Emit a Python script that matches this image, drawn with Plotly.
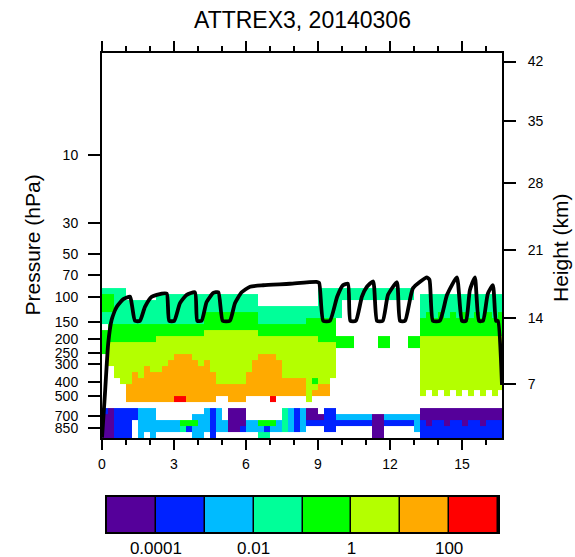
import plotly.graph_objects as go

W, H = 575, 557
FONT = "Liberation Sans"

title_text = "ATTREX3, 20140306"

# 8 colour bins of the field (values: <1e-4, 1e-4..1e-3, ..., >100)
bin_colors = ["#55009A", "#0022FF", "#00BBFF", "#00FF99",
              "#00FF00", "#B4FF00", "#FFAA00", "#FF0000"]
bar_tick_pos = [1, 3, 5, 7]
bar_tick_text = ["0.0001", "0.01", "1", "100"]

# grid of the field: time bin edges (h) and pressure bin edges (hPa)
time_edges = [round(0.25 * k, 2) for k in range(68)]
pressure_edges = [78.8, 86.8, 95.7, 105.5, 116.3, 128.2, 141.3, 155.8, 171.8,
                  189.4, 208.8, 230.1, 253.8, 279.7, 308.4, 340.0, 374.9,
                  413.2, 455.4, 502.2, 553.5, 610.4, 672.8, 741.9, 817.6,
                  901.4, 1000.0]

# one string per time column, top (low pressure) to bottom; '.' = no data
field_columns = [
    ".344433.4444.........10000",
    ".3444334445555.......00000",
    ".333333444555555.....11111",
    ".3333334445555555....11111",
    "...33334445555555666.11111",
    "...33334445555566666.11...",
    "...33334445555556666.22222",
    "...33334445555666666.2222.",
    "...33334445555566666.22222",
    "..333334455555566666...22.",
    "..333334455555666666...22.",
    "..333334455556666666...22.",
    "..333334455566666667...22.",
    "..333334455566666667...43.",
    "..333334455566666666...41.",
    "..333334455556666666..2422",
    "..333334455555666666..2222",
    "..333444555556666666.2222.",
    "..333444555555566666.11111",
    "..33344455555555566..2222.",
    "..33344455555555566....22.",
    "..333444555555555666.0000.",
    "..333444555555555666.0000.",
    "..333444555555555666.0001.",
    "..33344455555556666....22.",
    "..33344455555666666....22.",
    "....333445556666666....423",
    "....333445556666666....413",
    "....3334455566666667...42.",
    "....333445555666666....22.",
    "....333445555555666..3333.",
    "....333445555555666..2222.",
    "....333445555555666..1111.",
    "....333445555555666..2222.",
    "....3344455555555555.001..",
    "....334445555555456..001..",
    ".333334444555555566...01..",
    ".333334444555555566..1111.",
    ".333334444555555.....1111.",
    "." + "33333" + "..." + "44" + "..........." + "21..",
    "." + "33" + "......" + "44" + "..........." + "21..",
    "." + "33" + "......" + "44" + "..........." + "21..",
    "." + "33" + "......" + ".." + "..........." + "21..",
    "." + "33" + "......" + ".." + "..........." + "21..",
    "." + "33" + "......" + ".." + "..........." + "21..",
    "." + "33" + "......" + ".." + "..........." + "0000",
    "." + "33" + "......" + "44" + "..........." + "0000",
    "." + "33" + "......" + "44" + "..........." + "21..",
    "." + "33" + "......" + ".." + "..........." + "21..",
    "." + "33" + "......" + ".." + "..........." + "21..",
    "." + "33" + "......" + ".." + "..........." + "21..",
    "." + "33" + "......" + "44" + "..........." + "21..",
    "." + ".." + "......" + "44" + "..........." + "222.",
    "..33334445555555555..00111",
    "..3334444555555555...00011",
    "..33334445555555555..00111",
    "..3334444555555555...00111",
    "..33334445555555555..00011",
    "..3334444555555555...00111",
    "..33334445555555555..00111",
    "..3334444555555555...00011",
    "..33334445555555555..00111",
    "..3334444555555555...00111",
    "..33334445555555555..00011",
    "..3334444555555555...00111",
    "..33334445555555555..00111",
    "..3334444555555555...00111",
]

# flight track
flight_time = [0.00, 0.125, 0.26, 0.40, 0.61, 0.89, 1.17, 1.25, 1.375, 1.58, 1.79,
               2.07, 2.49, 2.70, 2.80, 3.01, 3.25, 3.53, 3.875, 3.97, 4.15, 4.36,
               4.64, 4.85, 5.03, 5.33, 5.54, 5.82, 6.17, 6.72, 7.83, 8.94, 9.05,
               9.22, 9.50, 9.80, 10.04, 10.25, 10.35, 10.58, 10.83, 11.04, 11.30,
               11.46, 11.70, 11.92, 12.29, 12.42, 12.63, 12.96, 13.54, 13.65,
               13.79, 14.08, 14.38, 14.79, 15.00, 15.17, 15.33, 15.54, 15.71,
               15.88, 16.08, 16.29, 16.42, 16.50, 16.67]
flight_pres = [985, 478, 212, 146, 118, 104, 100, 115, 148, 148, 118,
               100, 95, 95, 148, 148, 111, 97, 93, 148, 148, 109,
               94, 93, 148, 148, 111, 93, 85, 83, 81, 78.5, 80,
               148, 148, 100, 83, 81, 148, 148, 100, 85, 78,
               148, 148, 97, 79, 148, 148, 87, 73, 76,
               148, 148, 97, 73, 148, 148, 90, 73, 148,
               148, 95, 83, 148, 148, 420]

time_ticks = [0, 3, 6, 9, 12, 15]
time_range = [0, 16.67]
pressure_ticks = [10, 30, 50, 70, 100, 150, 200, 250, 300, 400, 500, 700, 850]
pressure_log_range = [2.997, 0.280]          # bottom -> top (log10 hPa)
height_ticks_km = [7, 14, 21, 28, 35, 42]
height_ticks_hpa = [410.6, 141.0, 46.78, 15.86, 5.78, 2.19]   # std atmosphere

# ---- build z matrix ----
nrows = len(pressure_edges) - 1
for c in field_columns:
    if len(c) != nrows:
        raise ValueError("bad column length %d: %r" % (len(c), c))
if len(field_columns) != len(time_edges) - 1:
    raise ValueError("bad number of columns %d" % len(field_columns))
z = [[(None if col[r] == "." else int(col[r])) for col in field_columns]
     for r in range(nrows)]

n = len(bin_colors)
cscale = []
for k, c in enumerate(bin_colors):
    cscale.append([k / n, c])
    cscale.append([(k + 1) / n, c])

fig = go.Figure()
fig.add_trace(go.Heatmap(x=time_edges, y=pressure_edges, z=z, colorscale=cscale,
                         zmin=-0.5, zmax=n - 0.5, showscale=False, zsmooth=False,
                         hoverinfo="skip", xaxis="x", yaxis="y"))
fig.add_trace(go.Scatter(x=flight_time, y=flight_pres, mode="lines",
                         line=dict(color="black", width=3.8, shape="spline",
                                   smoothing=0.5),
                         showlegend=False, xaxis="x", yaxis="y"))
fig.add_trace(go.Scatter(x=[None], y=[None], mode="lines", showlegend=False,
                         xaxis="x2", yaxis="y2"))
fig.add_trace(go.Heatmap(x=list(range(n + 1)), y=[0, 1], z=[list(range(n))],
                         colorscale=cscale, zmin=-0.5, zmax=n - 0.5,
                         showscale=False, xgap=1.5, hoverinfo="skip",
                         xaxis="x3", yaxis="y3"))

px0, px1 = 102, 502
py_top, py_bot = 53, 438
xdom = [px0 / W, px1 / W]
ydom = [1 - py_bot / H, 1 - py_top / H]

tick_font = dict(family=FONT, size=14, color="black")
minor = dict(tickmode="linear", tick0=0, dtick=1, ticks="outside", ticklen=5,
             tickwidth=1.5, tickcolor="black")
common_x = dict(range=time_range, tickmode="array", tickvals=time_ticks,
                ticks="outside", ticklen=10, tickwidth=1.5, tickcolor="black",
                showline=True, linewidth=2, linecolor="black", showgrid=False,
                zeroline=False, minor=minor, tickfont=tick_font, automargin=False)
common_y = dict(type="log", range=pressure_log_range, ticks="outside", ticklen=12,
                tickwidth=1.5, tickcolor="black", showline=True, linewidth=2,
                linecolor="black", showgrid=False, zeroline=False,
                tickfont=tick_font, tickmode="array", automargin=False)

fig.update_layout(
    width=W, height=H, margin=dict(l=0, r=0, t=0, b=0, autoexpand=False),
    paper_bgcolor="white", plot_bgcolor="white", showlegend=False,
    xaxis=dict(domain=xdom, anchor="y", ticklabelstandoff=2, **common_x),
    xaxis2=dict(domain=xdom, anchor="y", overlaying="x", side="top",
                showticklabels=False, **common_x),
    yaxis=dict(domain=ydom, anchor="x", tickvals=pressure_ticks,
               ticktext=[str(v) for v in pressure_ticks], ticklabelstandoff=7,
               **common_y),
    yaxis2=dict(domain=ydom, anchor="x", overlaying="y", side="right",
                tickvals=height_ticks_hpa, ticktext=[str(v) for v in height_ticks_km],
                ticklabelstandoff=9, **common_y),
    xaxis3=dict(domain=[107 / W, 498 / W], anchor="y3", range=[0, n],
                tickmode="array", tickvals=bar_tick_pos, ticktext=bar_tick_text,
                ticks="", showline=True, mirror=True, linewidth=1.5,
                linecolor="black", showgrid=False, zeroline=False,
                tickfont=dict(family=FONT, size=17, color="black"),
                ticklabelstandoff=0, automargin=False),
    yaxis3=dict(domain=[25 / H, 60 / H], anchor="x3", range=[0, 1],
                showticklabels=False, ticks="", showline=True, mirror=True,
                linewidth=1.5, linecolor="black", showgrid=False, zeroline=False,
                automargin=False),
    shapes=[dict(type="rect", xref="x3", yref="y3", x0=0, x1=n, y0=0, y1=1,
                 fillcolor="black", line=dict(width=0), layer="below")],
    annotations=[
        dict(text=title_text, xref="paper", yref="paper", x=302 / W, y=1 - 19.5 / H,
             xanchor="center", yanchor="middle", showarrow=False,
             font=dict(family=FONT, size=23, color="black")),
        dict(text="Pressure (hPa)", xref="paper", yref="paper", x=32 / W,
             y=1 - 245.5 / H, xanchor="center", yanchor="middle", textangle=-90,
             showarrow=False, font=dict(family=FONT, size=21, color="black")),
        dict(text="Height (km)", xref="paper", yref="paper", x=561 / W,
             y=1 - 248 / H, xanchor="center", yanchor="middle", textangle=-90,
             showarrow=False, font=dict(family=FONT, size=21, color="black")),
    ],
)

fig.write_html("out.html")
